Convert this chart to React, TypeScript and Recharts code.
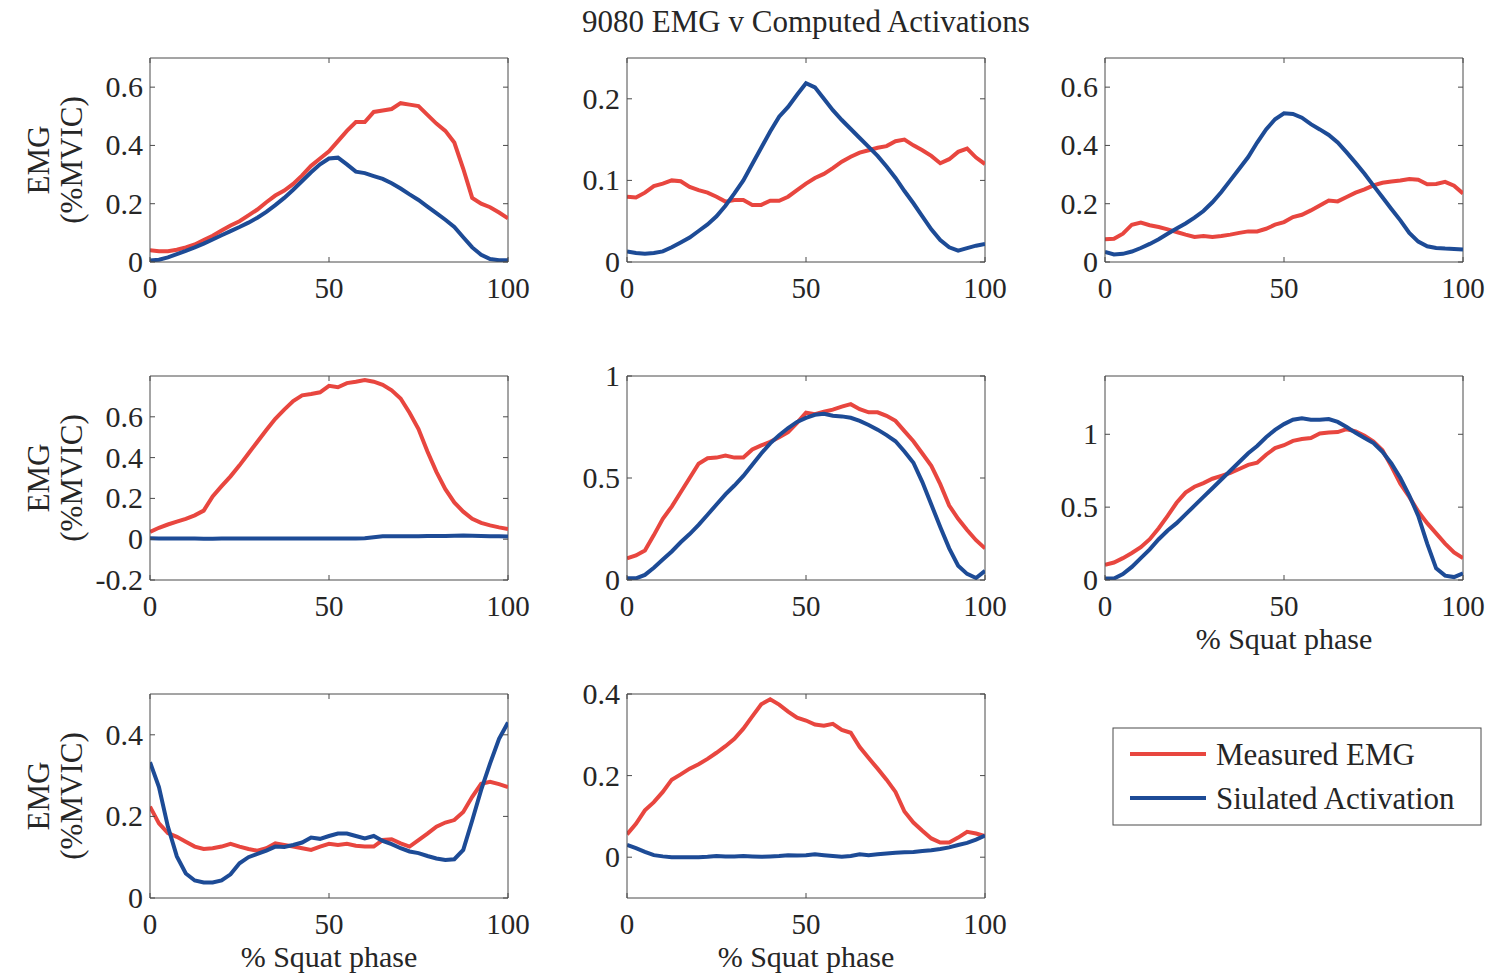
import { LineChart, Line, XAxis, YAxis, ReferenceLine } from "recharts"

// % squat phase, sampled every 2.5%
const phase = [
  0, 2.5, 5, 7.5, 10, 12.5, 15, 17.5, 20, 22.5, 25, 27.5, 30, 32.5, 35, 37.5, 40, 42.5, 45, 47.5, 50,
  52.5, 55, 57.5, 60, 62.5, 65, 67.5, 70, 72.5, 75, 77.5, 80, 82.5, 85, 87.5, 90, 92.5, 95, 97.5, 100,
]

// measured EMG (red) and simulated activation (blue), one pair per muscle
const measured1 = [0.04, 0.037, 0.037, 0.042, 0.05, 0.06, 0.075, 0.09, 0.108, 0.125, 0.14, 0.16, 0.18, 0.205, 0.228, 0.245, 0.268, 0.297, 0.33, 0.355, 0.38, 0.415, 0.45, 0.48, 0.48, 0.515, 0.52, 0.525, 0.545, 0.54, 0.535, 0.505, 0.475, 0.45, 0.41, 0.32, 0.22, 0.2, 0.188, 0.17, 0.15]
const simulated1 = [0.005, 0.008, 0.016, 0.027, 0.038, 0.05, 0.063, 0.077, 0.092, 0.106, 0.12, 0.135, 0.152, 0.172, 0.195, 0.22, 0.248, 0.278, 0.308, 0.335, 0.355, 0.358, 0.335, 0.31, 0.305, 0.295, 0.285, 0.27, 0.252, 0.232, 0.213, 0.19, 0.168, 0.145, 0.12, 0.085, 0.05, 0.025, 0.01, 0.006, 0.006]

const measured2 = [0.08, 0.079, 0.085, 0.093, 0.096, 0.1, 0.099, 0.092, 0.088, 0.085, 0.08, 0.074, 0.076, 0.076, 0.07, 0.07, 0.075, 0.075, 0.08, 0.088, 0.096, 0.103, 0.108, 0.115, 0.123, 0.129, 0.134, 0.137, 0.14, 0.142, 0.148, 0.15, 0.143, 0.137, 0.13, 0.121, 0.126, 0.135, 0.139, 0.128, 0.12]
const simulated2 = [0.013, 0.011, 0.01, 0.011, 0.013, 0.018, 0.024, 0.03, 0.038, 0.046, 0.056, 0.069, 0.084, 0.1, 0.12, 0.14, 0.16, 0.178, 0.19, 0.205, 0.219, 0.214, 0.2, 0.186, 0.174, 0.163, 0.152, 0.141, 0.13, 0.117, 0.103, 0.087, 0.072, 0.056, 0.04, 0.027, 0.018, 0.014, 0.017, 0.02, 0.022]

const measured3 = [0.078, 0.08, 0.097, 0.128, 0.135, 0.126, 0.12, 0.112, 0.103, 0.094, 0.086, 0.089, 0.086, 0.089, 0.094, 0.1, 0.105, 0.105, 0.114, 0.128, 0.137, 0.154, 0.162, 0.177, 0.194, 0.211, 0.208, 0.223, 0.238, 0.249, 0.263, 0.272, 0.276, 0.28, 0.285, 0.282, 0.267, 0.268, 0.275, 0.262, 0.235]
const simulated3 = [0.035, 0.026, 0.028, 0.036, 0.048, 0.062, 0.078, 0.097, 0.115, 0.132, 0.152, 0.175, 0.205, 0.24, 0.28, 0.32, 0.36, 0.41, 0.455, 0.49, 0.51, 0.508, 0.495, 0.473, 0.455, 0.436, 0.41, 0.376, 0.34, 0.303, 0.262, 0.222, 0.182, 0.143, 0.1, 0.07, 0.054, 0.048, 0.046, 0.045, 0.043]

const measured4 = [0.036, 0.056, 0.072, 0.086, 0.1, 0.117, 0.14, 0.21, 0.26, 0.308, 0.362, 0.42, 0.478, 0.535, 0.59, 0.635, 0.677, 0.705, 0.712, 0.72, 0.752, 0.745, 0.765, 0.772, 0.78, 0.772, 0.757, 0.73, 0.69, 0.62, 0.54, 0.43, 0.33, 0.245, 0.18, 0.135, 0.1, 0.08, 0.068, 0.058, 0.05]
const simulated4 = [0.005, 0.004, 0.004, 0.003, 0.003, 0.003, 0.002, 0.002, 0.003, 0.003, 0.003, 0.003, 0.003, 0.003, 0.003, 0.004, 0.004, 0.004, 0.004, 0.003, 0.003, 0.004, 0.004, 0.004, 0.005, 0.01, 0.014, 0.015, 0.015, 0.015, 0.015, 0.016, 0.016, 0.016, 0.017, 0.018, 0.017, 0.016, 0.015, 0.015, 0.013]

const measured5 = [0.106, 0.12, 0.145, 0.22, 0.3, 0.36, 0.43, 0.5, 0.57, 0.597, 0.6, 0.61, 0.6, 0.6, 0.64, 0.66, 0.677, 0.7, 0.725, 0.77, 0.82, 0.813, 0.825, 0.835, 0.85, 0.862, 0.837, 0.822, 0.822, 0.805, 0.78, 0.73, 0.68, 0.62, 0.56, 0.47, 0.365, 0.3, 0.245, 0.195, 0.155]
const simulated5 = [0.008, 0.008, 0.025, 0.06, 0.1, 0.14, 0.185, 0.225, 0.27, 0.32, 0.37, 0.42, 0.463, 0.51, 0.565, 0.62, 0.67, 0.71, 0.745, 0.775, 0.795, 0.81, 0.815, 0.805, 0.802, 0.795, 0.78, 0.76, 0.737, 0.71, 0.68, 0.63, 0.575, 0.48, 0.37, 0.26, 0.155, 0.07, 0.03, 0.01, 0.045]

const measured6 = [0.105, 0.12, 0.15, 0.185, 0.225, 0.28, 0.355, 0.44, 0.53, 0.6, 0.64, 0.665, 0.695, 0.715, 0.735, 0.762, 0.79, 0.805, 0.86, 0.905, 0.925, 0.955, 0.968, 0.975, 1.005, 1.012, 1.015, 1.035, 1.02, 0.99, 0.95, 0.89, 0.78, 0.66, 0.57, 0.47, 0.39, 0.32, 0.25, 0.19, 0.15]
const simulated6 = [0.01, 0.01, 0.04, 0.09, 0.15, 0.21, 0.28, 0.34, 0.39, 0.45, 0.51, 0.57, 0.63, 0.69, 0.75, 0.81, 0.87, 0.92, 0.98, 1.03, 1.07, 1.1, 1.11, 1.1, 1.1, 1.105, 1.085, 1.05, 1.01, 0.975, 0.94, 0.88, 0.8, 0.7, 0.58, 0.44, 0.25, 0.08, 0.03, 0.02, 0.045]

const measured7 = [0.224, 0.183, 0.159, 0.15, 0.138, 0.126, 0.12, 0.122, 0.126, 0.133, 0.126, 0.12, 0.116, 0.122, 0.134, 0.13, 0.126, 0.122, 0.118, 0.126, 0.133, 0.13, 0.133, 0.128, 0.126, 0.126, 0.142, 0.144, 0.134, 0.126, 0.142, 0.158, 0.175, 0.185, 0.191, 0.211, 0.248, 0.28, 0.285, 0.279, 0.272]
const simulated7 = [0.333, 0.272, 0.175, 0.102, 0.06, 0.043, 0.038, 0.038, 0.043, 0.058, 0.085, 0.1, 0.108, 0.116, 0.126, 0.125, 0.13, 0.136, 0.148, 0.145, 0.152, 0.158, 0.158, 0.152, 0.146, 0.152, 0.14, 0.132, 0.122, 0.114, 0.11, 0.103, 0.097, 0.093, 0.095, 0.118, 0.19, 0.265, 0.33, 0.39, 0.43]

const measured8 = [0.056, 0.082, 0.115, 0.135, 0.16, 0.19, 0.203, 0.217, 0.228, 0.241, 0.256, 0.272, 0.29, 0.315, 0.345, 0.375, 0.387, 0.374, 0.357, 0.342, 0.335, 0.325, 0.322, 0.327, 0.312, 0.305, 0.27, 0.243, 0.217, 0.19, 0.16, 0.112, 0.085, 0.065, 0.046, 0.036, 0.036, 0.048, 0.062, 0.058, 0.052]
const simulated8 = [0.03, 0.022, 0.013, 0.005, 0.002, 0.0, 0.0, 0.0, 0.0, 0.001, 0.003, 0.002, 0.002, 0.003, 0.002, 0.001, 0.002, 0.003, 0.005, 0.004, 0.005, 0.007, 0.005, 0.003, 0.001, 0.003, 0.007, 0.005, 0.007, 0.009, 0.011, 0.012, 0.013, 0.015, 0.017, 0.02, 0.024, 0.03, 0.035, 0.043, 0.053]

const xTicks = [0, 50, 100]
const yTicks1 = [0, 0.2, 0.4, 0.6]
const yTicks2 = [0, 0.1, 0.2]
const yTicks4 = [-0.2, 0, 0.2, 0.4, 0.6]
const yTicks5 = [0, 0.5, 1]
const yTicks7 = [0, 0.2, 0.4]

const title = "9080 EMG v Computed Activations"
const xLabel = "% Squat phase"
const legendNames = ["Measured EMG", "Siulated Activation"]

const RED = "#e8463f"
const BLUE = "#1d4b96"
const AXIS = "#4a4a4a"
const TEXT = "#262626"
const FONT = '"Liberation Serif", "Times New Roman", serif'

const COLS = [150, 627, 1105]
const ROWS = [58, 376, 694]
const PW = 358
const PH = 204
// space around the plot box
const LEFT_W = 70
const RIGHT_W = 40
const TOP_H = 20
const BOTTOM_H = 50
const TICK = 5

type PanelProps = {
  col: number
  row: number
  measured: number[]
  simulated: number[]
  domain: [number, number]
  ticks: number[]
}

const panels: PanelProps[] = [
  { col: 0, row: 0, measured: measured1, simulated: simulated1, domain: [0, 0.7], ticks: yTicks1 },
  { col: 1, row: 0, measured: measured2, simulated: simulated2, domain: [0, 0.25], ticks: yTicks2 },
  { col: 2, row: 0, measured: measured3, simulated: simulated3, domain: [0, 0.7], ticks: yTicks1 },
  { col: 0, row: 1, measured: measured4, simulated: simulated4, domain: [-0.2, 0.8], ticks: yTicks4 },
  { col: 1, row: 1, measured: measured5, simulated: simulated5, domain: [0, 1], ticks: yTicks5 },
  { col: 2, row: 1, measured: measured6, simulated: simulated6, domain: [0, 1.4], ticks: yTicks5 },
  { col: 0, row: 2, measured: measured7, simulated: simulated7, domain: [0, 0.5], ticks: yTicks7 },
  { col: 1, row: 2, measured: measured8, simulated: simulated8, domain: [-0.1, 0.4], ticks: yTicks7 },
]

// matlab style: ticks point into the box, on all four sides
const BottomTick = (p: any) => (
  <g>
    <line x1={p.x} y1={p.y} x2={p.x} y2={p.y - TICK} stroke={AXIS} />
    <line x1={p.x} y1={p.y - PH} x2={p.x} y2={p.y - PH + TICK} stroke={AXIS} />
    <text x={p.x} y={p.y + 36} textAnchor="middle" fontFamily={FONT} fontSize={29} fill={TEXT}>
      {p.payload.value}
    </text>
  </g>
)
const LeftTick = (p: any) => (
  <g>
    <line x1={p.x} y1={p.y} x2={p.x + TICK} y2={p.y} stroke={AXIS} />
    <line x1={p.x + PW} y1={p.y} x2={p.x + PW - TICK} y2={p.y} stroke={AXIS} />
    <text x={p.x - 7} y={p.y + 10} textAnchor="end" fontFamily={FONT} fontSize={30} fill={TEXT}>
      {p.payload.value}
    </text>
  </g>
)

function Panel({ col, row, measured, simulated, domain, ticks }: PanelProps) {
  const data = phase.map((p, i) => ({ phase: p, measured: measured[i], simulated: simulated[i] }))
  return (
    <div style={{ position: "absolute", left: COLS[col] - LEFT_W, top: ROWS[row] - TOP_H }}>
      <LineChart width={PW + LEFT_W + RIGHT_W} height={PH + TOP_H + BOTTOM_H} data={data}
        margin={{ top: TOP_H, right: RIGHT_W, bottom: 0, left: 0 }}>
        <XAxis dataKey="phase" type="number" domain={[0, 100]} ticks={xTicks} height={BOTTOM_H} tickSize={0}
          tickMargin={0} stroke={AXIS} tickLine={false} tick={BottomTick} allowDataOverflow />
        <YAxis type="number" domain={domain} ticks={ticks} width={LEFT_W} tickSize={0} tickMargin={0} stroke={AXIS}
          tickLine={false} tick={LeftTick} allowDataOverflow />
        <ReferenceLine y={domain[1]} stroke={AXIS} />
        <ReferenceLine x={100} stroke={AXIS} />
        <Line dataKey="measured" stroke={RED} strokeWidth={4} dot={false} type="linear" isAnimationActive={false} />
        <Line dataKey="simulated" stroke={BLUE} strokeWidth={4} dot={false} type="linear" isAnimationActive={false} />
      </LineChart>
    </div>
  )
}

export default function App() {
  return (
    <div style={{ position: "absolute", left: 0, top: 0, width: 1494, height: 980, background: "#fff" }}>
      {panels.map((p, i) => (
        <Panel key={i} {...p} />
      ))}
      <svg width={1494} height={980} style={{ position: "absolute", left: 0, top: 0, pointerEvents: "none" }}
        fontFamily={FONT} fill={TEXT}>
        <text x={806} y={32} textAnchor="middle" fontSize={31}>{title}</text>
        {ROWS.map((top) => (
          <g key={top}>
            <text transform={`translate(49, ${top + PH / 2}) rotate(-90)`} textAnchor="middle" fontSize={31}>EMG</text>
            <text transform={`translate(82, ${top + PH / 2}) rotate(-90)`} textAnchor="middle" fontSize={31}>(%MVIC)</text>
          </g>
        ))}
        <text x={COLS[0] + PW / 2} y={ROWS[2] + PH + 69} textAnchor="middle" fontSize={30}>{xLabel}</text>
        <text x={COLS[1] + PW / 2} y={ROWS[2] + PH + 69} textAnchor="middle" fontSize={30}>{xLabel}</text>
        <text x={COLS[2] + PW / 2} y={ROWS[1] + PH + 69} textAnchor="middle" fontSize={30}>{xLabel}</text>
        <rect x={1113} y={728} width={368} height={97} fill="#fff" stroke={AXIS} strokeWidth={1} />
        <line x1={1130} y1={754} x2={1206} y2={754} stroke={RED} strokeWidth={4} />
        <line x1={1130} y1={798} x2={1206} y2={798} stroke={BLUE} strokeWidth={4} />
        <text x={1216} y={765} fontSize={31}>{legendNames[0]}</text>
        <text x={1216} y={809} fontSize={31}>{legendNames[1]}</text>
      </svg>
    </div>
  )
}
